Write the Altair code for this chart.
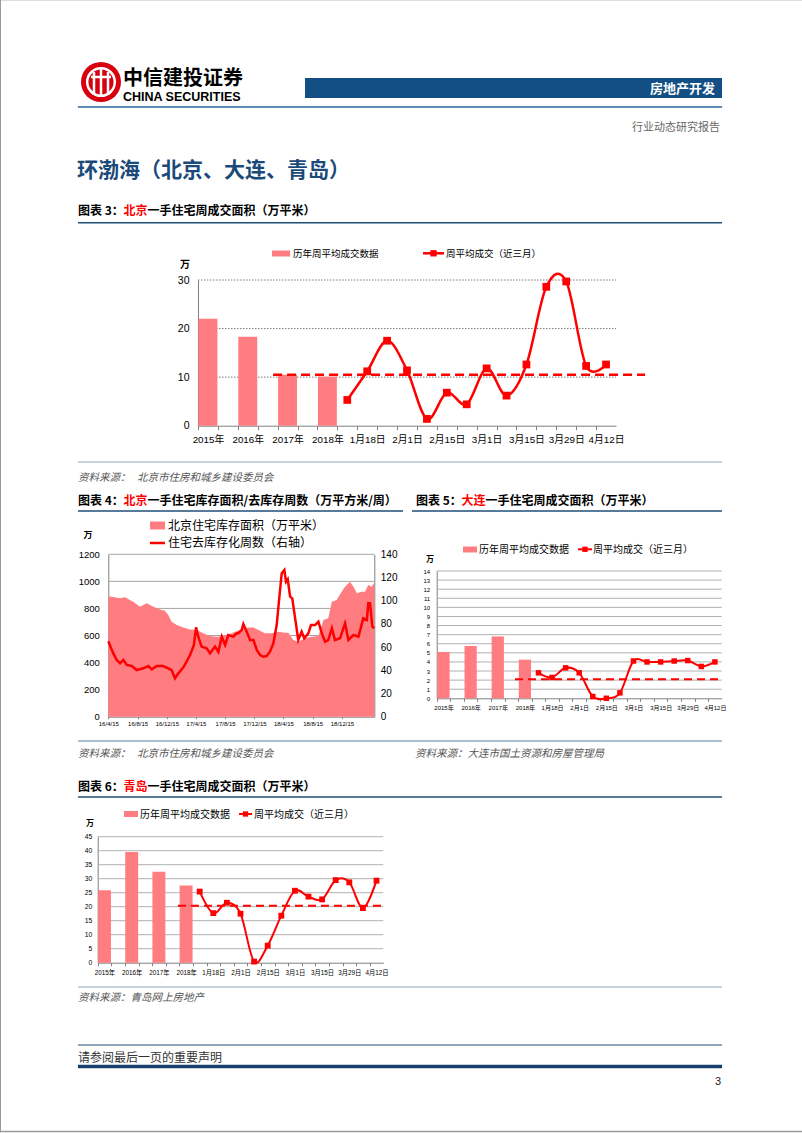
import json
import altair as alt
import pandas as pd

W, H = 802, 1133
CJK = "Noto Sans CJK SC"
NUM = "Liberation Sans, Noto Sans CJK SC"
PINK = "#FF7C80"
RED = "#FF0000"
NAVY = "#1B4A7A"

# ---------------- data ----------------
YEARS = ["2015年", "2016年", "2017年", "2018年"]
WEEKS = ["1月11日", "1月18日", "1月25日", "2月1日", "2月8日", "2月15日", "2月22日",
         "3月1日", "3月8日", "3月15日", "3月22日", "3月29日", "4月5日", "4月12日"]

BJ_YEAR = [22.0, 18.3, 10.5, 10.1]
BJ_WEEK = [5.3, 11.2, 17.5, 11.4, 1.4, 6.8, 4.4, 11.8, 6.2, 12.6, 28.6, 29.7, 12.3, 12.6]
BJ_AVG = 10.5

DL_YEAR = [5.1, 5.75, 6.8, 4.25]
DL_WEEK = [2.8, 2.3, 3.35, 2.8, 0.2, 0.0, 0.6, 4.1, 4.0, 4.0, 4.1, 4.15, 3.5, 4.0]
DL_AVG = 2.1

QD_YEAR = [25.9, 39.5, 32.5, 27.6]
QD_WEEK = [25.4, 17.7, 21.4, 17.5, 0.4, 6.1, 16.8, 25.7, 23.6, 22.6, 29.5, 28.7, 19.5, 29.3]
QD_AVG = 20.3

INV_DATES = ["2016/04/15", "2016/05/06", "2016/06/03", "2016/06/24", "2016/07/14", "2016/07/28",
             "2016/08/25", "2016/09/22", "2016/10/20", "2016/11/17", "2016/12/07", "2016/12/21",
             "2017/01/04", "2017/01/25", "2017/02/22", "2017/03/22", "2017/04/19", "2017/05/16",
             "2017/06/13", "2017/07/11", "2017/08/08", "2017/09/04", "2017/09/25", "2017/10/23",
             "2017/11/20", "2017/12/11", "2018/01/01", "2018/01/28", "2018/02/25", "2018/03/25",
             "2018/04/22", "2018/05/06", "2018/05/26", "2018/06/16", "2018/07/14", "2018/08/11",
             "2018/09/08", "2018/09/29", "2018/10/19", "2018/11/03", "2018/11/23", "2018/12/14",
             "2018/12/28", "2019/01/18", "2019/02/01", "2019/02/15", "2019/03/08", "2019/03/21",
             "2019/04/04", "2019/04/18", "2019/04/29"]
INV_VALS = [890, 885, 875, 882, 862, 850, 813, 838, 813, 793, 783, 751,
            702, 677, 660, 645, 641, 616, 596, 591, 596, 611, 628, 646,
            660, 660, 641, 616, 616, 628, 621, 621, 567, 554, 579, 591,
            596, 714, 727, 850, 862, 924, 961, 998, 961, 912, 924, 924,
            973, 961, 990]

WK_DATES = ["2016/04/15", "2016/05/06", "2016/05/20", "2016/06/03", "2016/06/17", "2016/07/01",
            "2016/07/22", "2016/08/11", "2016/09/08", "2016/09/29", "2016/10/13", "2016/11/03",
            "2016/11/30", "2016/12/21", "2017/01/04", "2017/01/18", "2017/02/01", "2017/02/22",
            "2017/03/22", "2017/04/07", "2017/04/16", "2017/04/25", "2017/05/09", "2017/05/30",
            "2017/06/13", "2017/07/04", "2017/07/18", "2017/08/01", "2017/08/15", "2017/08/28",
            "2017/09/18", "2017/10/02", "2017/10/09", "2017/10/23", "2017/10/30", "2017/11/13",
            "2017/11/27", "2017/12/11", "2017/12/25", "2018/01/08", "2018/01/21", "2018/02/04",
            "2018/02/18", "2018/03/04", "2018/03/18", "2018/03/28", "2018/04/08", "2018/04/19",
            "2018/04/26", "2018/05/03", "2018/05/13", "2018/05/22", "2018/06/03", "2018/06/16",
            "2018/06/30", "2018/07/11", "2018/07/28", "2018/08/08", "2018/08/25", "2018/09/08",
            "2018/09/22", "2018/10/06", "2018/10/19", "2018/11/03", "2018/11/16", "2018/12/07",
            "2018/12/28", "2019/01/11", "2019/02/01", "2019/02/22", "2019/03/14", "2019/03/29",
            "2019/04/04", "2019/04/11", "2019/04/21", "2019/04/29"]
WK_VALS = [65, 54.6, 48.9, 46, 48.9, 44.6, 43.7, 40.2, 41.7, 43.7, 40.8, 43.7,
           43.7, 41.7, 40.2, 33.1, 37.4, 42.5, 53.2, 61.8, 77, 69, 60.4, 58.9,
           54.6, 60.4, 56, 69, 61.8, 70.4, 69, 71.9, 71.9, 74.7, 79.9, 73.3,
           66.1, 66.1, 57.5, 53.2, 51.7, 52.3, 56, 63.2, 79, 100.6, 123.6, 126.5,
           116.4, 118.4, 103.5, 102, 84.8, 66.1, 73.3, 67.6, 71.9, 79, 79, 81.9,
           71.9, 64.7, 66.1, 76.2, 66.1, 67.6, 80.5, 66.1, 70.4, 69, 84.8, 83.4,
           97.7, 97.7, 77.6, 76.2]

dummy = pd.DataFrame({"k": [0]})


# ---------------- helpers for page decoration ----------------
def T(s, x, y, size, color="#000", weight="normal", align="left", font=CJK,
      style="normal", baseline="alphabetic"):
    return alt.Chart(dummy).mark_text(
        align=align, baseline=baseline, fontSize=size, font=font,
        fontWeight=weight, fontStyle=style, color=color
    ).encode(x=alt.value(x), y=alt.value(y), text=alt.value(s))


def HL(x1, x2, y, color, w, dash=None):
    kw = dict(color=color, strokeWidth=w)
    if dash:
        kw["strokeDash"] = dash
    return alt.Chart(dummy).mark_rule(**kw).encode(
        x=alt.value(x1), x2=alt.value(x2), y=alt.value(y))


def VLN(x, y1, y2, color, w):
    return alt.Chart(dummy).mark_rule(color=color, strokeWidth=w).encode(
        x=alt.value(x), y=alt.value(y1), y2=alt.value(y2))


def RC(x1, x2, y1, y2, color):
    return alt.Chart(dummy).mark_rect(color=color).encode(
        x=alt.value(x1), x2=alt.value(x2), y=alt.value(y1), y2=alt.value(y2))


def PT(x, y, size, color, shape="square", filled=True, sw=1):
    return alt.Chart(dummy).mark_point(
        shape=shape, filled=filled, size=size, color=color, opacity=1, strokeWidth=sw
    ).encode(x=alt.value(x), y=alt.value(y))


# ---------------- category charts (3, 5, 6) ----------------
def cat_chart(yv, wv, avg, span, box, ymax, ystep, st):
    x0, x1, yb, yt = box
    slot = (x1 - x0) / 21
    labels = [""] * 22
    for k, y in enumerate(YEARS):
        labels[2 * k] = y
    for j, w in enumerate(WEEKS):
        if j % 2 == 1:
            labels[7 + j] = w
    xs = alt.Scale(domain=[-0.5, 20.5], range=[x0, x1], nice=False, zero=False, padding=0)
    ys = alt.Scale(domain=[0, ymax], range=[yb, yt], nice=False, zero=False, padding=0)
    xaxis = alt.Axis(
        orient="bottom", offset=yb - H, values=list(range(22)),
        labelExpr=json.dumps(labels, ensure_ascii=False) + "[datum.value] || ''",
        tickOffset=-slot / 2, labelOffset=slot / 2, tickSize=st["xtick"],
        labelPadding=st["xpad"], labelFont=NUM, labelFontSize=st["xfs"],
        labelColor="#000", domainColor=st["axc"], tickColor=st["axc"],
        grid=False, title=None, labelFlush=False, labelOverlap=False, labelBound=False)
    yaxis = alt.Axis(
        orient="left", offset=-x0, values=list(range(0, ymax + 1, ystep)),
        ticks=False, labelPadding=st["ypad"], labelFont=NUM, labelFontSize=st["yfs"],
        labelColor="#000", domainColor=st["axc"], grid=False, title=None,
        format="d", labelFlush=False, labelOverlap=False, labelBound=False)
    X = alt.X("i:Q", scale=xs, axis=xaxis)
    Y = alt.Y("v:Q", scale=ys, axis=yaxis)

    bars_df = pd.DataFrame({"i": [0, 2, 4, 6], "v": yv})
    wk_df = pd.DataFrame({"i": list(range(7, 21)), "v": wv})
    avg_df = pd.DataFrame({"i": [span[0]], "i2": [span[1]], "v": [avg]})
    gvals = list(range(ystep, ymax + 1, ystep))
    grid_df = pd.DataFrame({"v": gvals, "i": [-0.5] * len(gvals), "i2": [20.5] * len(gvals)})

    gkw = dict(color=st["gridc"], strokeWidth=1)
    if st.get("griddash"):
        gkw["strokeDash"] = st["griddash"]
    grid = alt.Chart(grid_df).mark_rule(**gkw).encode(x=X, x2="i2:Q", y=Y)
    bars = alt.Chart(bars_df).mark_bar(color=PINK, width=slot * st["bw"], orient="vertical").encode(
        x=X, y=Y, y2=alt.datum(0))
    avgl = alt.Chart(avg_df).mark_rule(color=RED, strokeWidth=st["lw"], strokeDash=st["dash"]).encode(
        x=X, x2="i2:Q", y=Y)
    line = alt.Chart(wk_df).mark_line(color=RED, strokeWidth=st["lw"], interpolate="cardinal",
                                      tension=0).encode(x=X, y=Y)
    pts = alt.Chart(wk_df).mark_point(shape="square", filled=True, size=st["ms"], color=RED,
                                      opacity=1).encode(x=X, y=Y)
    return alt.layer(grid, bars, avgl, line, pts)


st3 = dict(xtick=4, xpad=5, xfs=9.8, ypad=9, yfs=10.5, axc="#808080", gridc="#7a7a7a",
           griddash=[1.5, 1.5], bw=0.95, lw=2.5, dash=[9, 5], ms=60)
st5 = dict(xtick=3, xpad=3, xfs=6, ypad=7, yfs=6, axc="#808080", gridc="#b0b0b0",
           griddash=None, bw=0.9, lw=2, dash=[8, 5], ms=30)
st6 = dict(xtick=3, xpad=4, xfs=6.3, ypad=6, yfs=6.8, axc="#808080", gridc="#b0b0b0",
           griddash=None, bw=0.95, lw=2, dash=[8, 5], ms=34)

chart3 = cat_chart(BJ_YEAR, BJ_WEEK, BJ_AVG, [3.27, 21.96], (198, 616, 425.7, 280), 30, 10, st3)
chart5 = cat_chart(DL_YEAR, DL_WEEK, DL_AVG, [5.27, 20.3], (436.7, 721.7, 698.3, 571), 14, 1, st5)
chart6 = cat_chart(QD_YEAR, QD_WEEK, QD_AVG, [5.4, 20.4], (97.7, 383.3, 962.7, 836.7), 45, 5, st6)

# ---------------- chart 4 (inventory) ----------------
x0, x1, yb, yt = 108.3, 374.3, 716.7, 554.3
d_start = alt.DateTime(year=2016, month=4, date=15)
d_end = alt.DateTime(year=2019, month=4, date=29)
tick_dates = [alt.DateTime(year=2016, month=4, date=15), alt.DateTime(year=2016, month=8, date=15),
              alt.DateTime(year=2016, month=12, date=15), alt.DateTime(year=2017, month=4, date=15),
              alt.DateTime(year=2017, month=8, date=15), alt.DateTime(year=2017, month=12, date=15),
              alt.DateTime(year=2018, month=4, date=15), alt.DateTime(year=2018, month=8, date=15),
              alt.DateTime(year=2018, month=12, date=15)]
X4 = alt.X("d:T", scale=alt.Scale(domain=[d_start, d_end], range=[x0, x1], nice=False, padding=0),
           axis=alt.Axis(orient="bottom", offset=yb - H, values=tick_dates, format="%y/%-m/%d",
                         tickSize=2, labelPadding=1.5, labelFont=NUM, labelFontSize=6,
                         labelColor="#000", domainColor="#808080", tickColor="#808080",
                         grid=False, title=None, labelFlush=False, labelOverlap=False,
                         labelBound=False))
Y4L = alt.Y("v:Q", scale=alt.Scale(domain=[0, 1200], range=[yb, yt], nice=False, zero=False),
            axis=alt.Axis(orient="left", offset=-x0, values=list(range(0, 1201, 200)),
                          ticks=False, labelPadding=9, labelFont=NUM, labelFontSize=9.5,
                          labelColor="#000", domainColor="#808080", grid=False, title=None,
                          format="d", labelFlush=False, labelOverlap=False))
Y4R = alt.Y("w:Q", scale=alt.Scale(domain=[0, 140], range=[yb, yt], nice=False, zero=False),
            axis=alt.Axis(orient="right", offset=x1 - W, values=list(range(0, 141, 20)),
                          ticks=False, labelPadding=6, labelFont=NUM, labelFontSize=10,
                          labelColor="#000", domainColor="#808080", grid=False, title=None,
                          format="d", labelFlush=False, labelOverlap=False))

inv_df = pd.DataFrame({"d": INV_DATES, "v": INV_VALS})
wk4_df = pd.DataFrame({"d": WK_DATES, "w": WK_VALS})
g4 = list(range(200, 1201, 200))
grid4_df = pd.DataFrame({"v": g4, "d": ["2016/04/15"] * len(g4), "d2": ["2019/04/29"] * len(g4)})

grid4 = alt.Chart(grid4_df).mark_rule(color="#a6a6a6", strokeWidth=1).encode(x=X4, x2="d2:T", y=Y4L)
area4 = alt.Chart(inv_df).mark_area(color=PINK, opacity=1).encode(x=X4, y=Y4L)
line4 = alt.Chart(wk4_df).mark_line(color=RED, strokeWidth=2.5).encode(x=X4, y=Y4R)
chart4 = alt.layer(alt.layer(grid4, area4), line4).resolve_scale(y="independent")

# ---------------- page decoration ----------------
deco = [
    # page border
    VLN(0.5, 0, 1132, "#9a9a9a", 1),
    HL(0, 802, 1131.5, "#9a9a9a", 1.5),
    # logo
    PT(101, 82, 1600, "#D7000F", "circle"),
    PT(101, 82, 760, "#FFFFFF", "circle", filled=False, sw=2.5),
    VLN(94, 72, 95, "#FFFFFF", 2.5),
    VLN(101, 68, 97, "#FFFFFF", 2.5),
    VLN(108, 72, 95, "#FFFFFF", 2.5),
    HL(91, 111, 77, "#FFFFFF", 2.5),
    T("中信建投证券", 123, 84.5, 20, weight="bold"),
    T("CHINA SECURITIES", 123, 100.5, 12.5, weight="bold", font="Liberation Sans"),
    RC(305, 722, 78, 98, "#134F84"),
    T("房地产开发", 715, 93, 13, color="#FFFFFF", weight="bold", align="right"),
    HL(78, 722, 107, "#2A6497", 1.5),
    T("行业动态研究报告", 720, 131, 11, color="#666666", align="right"),
    T("环渤海（北京、大连、青岛）", 77, 177, 21, color=NAVY, weight="bold"),
    # chart 3 title
    T("图表 3：", 78, 215, 12, weight="bold"),
    T("北京", 123.5, 215, 12, color="#FF0000", weight="bold"),
    T("一手住宅周成交面积（万平米）", 147.5, 215, 12, weight="bold"),
    HL(78, 722, 222.7, "#1F4E79", 1.6),
    # chart 3 legend
    RC(272, 290, 250.5, 256.5, PINK),
    T("历年周平均成交数据", 293, 253.5, 9.5, baseline="middle"),
    HL(423, 444, 253.3, RED, 2.5),
    PT(433.5, 253.3, 40, RED),
    T("周平均成交（近三月）", 446, 253.5, 9.5, baseline="middle"),
    T("万", 185, 265, 10, weight="bold", align="center", baseline="middle"),
    # source 3
    HL(78, 722, 462, "#8FA9C2", 1.2),
    T("资料来源：", 78, 481, 10.5, color="#555555", style="italic"),
    T("北京市住房和城乡建设委员会", 137, 481, 10.5, color="#555555", style="italic"),
    # chart 4 / 5 titles
    T("图表 4：", 78, 505, 12, weight="bold"),
    T("北京", 123.5, 505, 12, color="#FF0000", weight="bold"),
    T("一手住宅库存面积/去库存周数（万平方米/周）", 147.5, 505, 12, weight="bold"),
    T("图表 5：", 416, 505, 12, weight="bold"),
    T("大连", 461.5, 505, 12, color="#FF0000", weight="bold"),
    T("一手住宅周成交面积（万平米）", 485.5, 505, 12, weight="bold"),
    HL(78, 403, 511, "#1F4E79", 1.6),
    HL(412, 722, 511, "#1F4E79", 1.6),
    # chart 4 legend
    RC(150, 165, 521.5, 529.5, PINK),
    T("北京住宅库存面积（万平米）", 168, 525.5, 12, baseline="middle"),
    HL(150, 165, 543, RED, 2.5),
    T("住宅去库存化周数（右轴）", 168, 543, 12, baseline="middle"),
    T("万", 88, 535, 9, weight="bold", align="center", baseline="middle"),
    # chart 5 legend
    RC(463, 477, 546.5, 552.5, PINK),
    T("历年周平均成交数据", 479, 549.5, 10, baseline="middle"),
    HL(578, 592, 549.3, RED, 2),
    PT(585, 549.3, 28, RED),
    T("周平均成交（近三月）", 593, 549.5, 10, baseline="middle"),
    T("万", 430, 559.5, 8, weight="bold", align="center", baseline="middle"),
    # sources row 2
    HL(78, 722, 741, "#5B7FA3", 1.2),
    T("资料来源：", 78, 757, 10.5, color="#555555", style="italic"),
    T("北京市住房和城乡建设委员会", 137, 757, 10.5, color="#555555", style="italic"),
    T("资料来源：大连市国土资源和房屋管理局", 415, 757, 10.5, color="#555555", style="italic"),
    # chart 6 title
    T("图表 6：", 78, 791, 12, weight="bold"),
    T("青岛", 123.5, 791, 12, color="#FF0000", weight="bold"),
    T("一手住宅周成交面积（万平米）", 147.5, 791, 12, weight="bold"),
    HL(78, 722, 797, "#1F4E79", 1.6),
    # chart 6 legend
    RC(124, 138, 811, 817, PINK),
    T("历年周平均成交数据", 140, 814.5, 10, baseline="middle"),
    HL(239, 252, 814, RED, 2),
    PT(245.5, 814, 28, RED),
    T("周平均成交（近三月）", 254, 814.5, 10, baseline="middle"),
    T("万", 90, 824, 8, weight="bold", align="center", baseline="middle"),
    # source 6
    HL(78, 722, 987, "#8FA9C2", 1.2),
    T("资料来源：青岛网上房地产", 78, 1001, 10.5, color="#555555", style="italic"),
    # footer
    HL(78, 722, 1045, "#1F4E79", 1.2),
    T("请参阅最后一页的重要声明", 78, 1062, 12, color="#333333"),
    HL(78, 722, 1066.5, "#17406D", 3.5),
    T("3", 721, 1085, 11, color="#222222", align="right", font="Liberation Sans"),
]

chart = alt.layer(*deco, chart3, chart4, chart5, chart6).resolve_scale(
    x="independent", y="independent"
).properties(
    width=W, height=H, autosize=alt.AutoSizeParams(type="none"), padding=0
).configure_view(strokeWidth=0).configure(background="white")

chart.save("out.html", embed_options={"renderer": "svg", "actions": False})
